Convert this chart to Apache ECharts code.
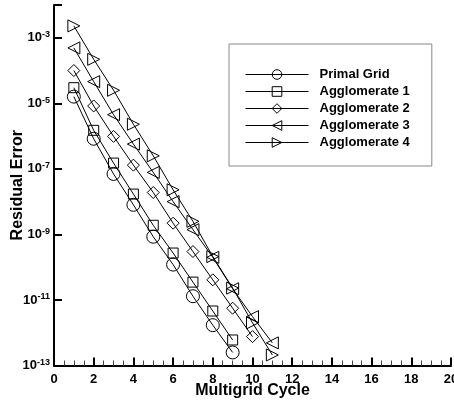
<!DOCTYPE html>
<html>
<head>
<meta charset="utf-8">
<script src="https://cdn.jsdelivr.net/npm/echarts@6/dist/echarts.min.js"></script>
<style>
html,body{margin:0;padding:0;background:#fff;}
#chart{width:454px;height:404px;}
</style>
</head>
<body>
<div id="chart"></div>
<script>
// Multigrid cycles per series
var cyclesPrimal = [1, 2, 3, 4, 5, 6, 7, 8, 9];
var cyclesAgg1 = [1, 2, 3, 4, 5, 6, 7, 8, 9];
var cyclesAgg2 = [1, 2, 3, 4, 5, 6, 7, 8, 9, 10];
var cyclesAgg3 = [1, 2, 3, 4, 5, 6, 7, 8, 9, 10, 11];
var cyclesAgg4 = [1, 2, 3, 4, 5, 6, 7, 8, 9, 10, 11];

// Residual error values
var primalGrid = [1.6e-5, 8.3e-7, 7e-8, 8e-9, 8.5e-10, 1.2e-10, 1.3e-11, 1.7e-12, 2.5e-13];
var agglomerate1 = [3e-5, 1.5e-6, 1.5e-7, 1.7e-8, 1.9e-9, 2.7e-10, 3.5e-11, 4.6e-12, 6e-13];
var agglomerate2 = [1e-4, 8.3e-6, 9.8e-7, 1.3e-7, 1.9e-8, 2.2e-9, 3e-10, 4.1e-11, 5.6e-12, 7.6e-13];
var agglomerate3 = [4.9e-4, 4.6e-5, 4.5e-6, 5.7e-7, 7.8e-8, 1e-8, 1.4e-9, 2e-10, 2.2e-11, 3.1e-12, 4.9e-13];
var agglomerate4 = [2.3e-3, 2.2e-4, 2.5e-5, 2.3e-6, 2.5e-7, 2.3e-8, 2.5e-9, 2.1e-10, 2.3e-11, 2e-12, 2.1e-13];

var seriesNames = ['Primal Grid', 'Agglomerate 1', 'Agglomerate 2', 'Agglomerate 3', 'Agglomerate 4'];

// Axis settings
var xMin = 0, xMax = 20, xInterval = 2;
var yMin = 1e-13, yMax = 1e-2;

function pairs(xs, ys) {
  return xs.map(function (x, i) { return [x, ys[i]]; });
}

var FONT = '"Liberation Sans", Arial, Helvetica, sans-serif';

var markerDefs = [
  { symbol: 'circle', size: 13, rotate: 0 },
  { symbol: 'rect', size: 10, rotate: 0 },
  { symbol: 'diamond', size: 12, rotate: 0 },
  { symbol: 'triangle', size: 12, rotate: 90 },
  { symbol: 'triangle', size: 12, rotate: -90 }
];

var dataSets = [
  pairs(cyclesPrimal, primalGrid),
  pairs(cyclesAgg1, agglomerate1),
  pairs(cyclesAgg2, agglomerate2),
  pairs(cyclesAgg3, agglomerate3),
  pairs(cyclesAgg4, agglomerate4)
];

var series = dataSets.map(function (d, i) {
  var m = markerDefs[i];
  return {
    name: seriesNames[i],
    type: 'line',
    data: d,
    symbol: m.symbol,
    symbolSize: m.size,
    symbolRotate: m.rotate,
    showAllSymbol: true,
    lineStyle: { color: '#000', width: 1 },
    itemStyle: { color: 'rgba(255,255,255,0)', borderColor: '#000', borderWidth: 1 },
    emphasis: { disabled: true },
    clip: false
  };
});

var chart = echarts.init(document.getElementById('chart'), null, { renderer: 'canvas' });
chart.setOption({
  animation: false,
  backgroundColor: '#fff',
  color: ['#000'],
  grid: { left: 54, right: 3, top: 5, bottom: 38.5, containLabel: false, outerBoundsMode: 'none' },
  legend: {
    orient: 'vertical',
    left: 229,
    top: 44,
    data: seriesNames,
    itemWidth: 63,
    itemHeight: 12,
    itemGap: 4,
    padding: [24, 22, 17, 16],
    backgroundColor: '#fff',
    borderColor: '#888',
    borderWidth: 1,
    borderRadius: 0,
    selectedMode: false,
    itemStyle: { color: 'rgba(255,255,255,0)', borderColor: '#000', borderWidth: 1 },
    lineStyle: { color: '#000', width: 1 },
    textStyle: { fontFamily: FONT, fontWeight: 'bold', fontSize: 13, lineHeight: 13, color: '#000', padding: [0, 0, 0, 6] }
  },
  xAxis: {
    type: 'value',
    min: xMin,
    max: xMax,
    interval: xInterval,
    name: 'Multigrid Cycle',
    nameLocation: 'middle',
    nameGap: 17.5,
    nameMoveOverlap: false,
    nameTextStyle: { fontFamily: FONT, fontWeight: 'bold', fontSize: 16, color: '#000' },
    axisLine: { show: true, lineStyle: { color: '#000', width: 2 } },
    axisTick: { show: true, inside: true, length: 8, lineStyle: { color: '#000', width: 2 } },
    minorTick: { show: true, splitNumber: 4, length: 5, lineStyle: { color: '#444', width: 1 } },
    splitLine: { show: false },
    axisLabel: { fontFamily: FONT, fontWeight: 'bold', fontSize: 13, color: '#000', margin: 7 }
  },
  yAxis: {
    type: 'log',
    logBase: 10,
    min: yMin,
    max: yMax,
    interval: 2,
    name: 'Residual Error',
    nameLocation: 'middle',
    nameGap: 28,
    nameMoveOverlap: false,
    nameTextStyle: { fontFamily: FONT, fontWeight: 'bold', fontSize: 16, color: '#000' },
    axisLine: { show: true, lineStyle: { color: '#000', width: 2 } },
    axisTick: { show: true, inside: true, length: 8, lineStyle: { color: '#000', width: 2 } },
    minorTick: { show: false },
    splitLine: { show: false },
    axisLabel: {
      margin: 4,
      fontFamily: FONT,
      fontWeight: 'bold',
      fontSize: 13,
      color: '#000',
      formatter: function (v) {
        var e = Math.round(Math.log10(v));
        if (e % 2 === 0) return '';
        return '{b|10}{s|' + e + '}';
      },
      rich: {
        b: { fontFamily: FONT, fontWeight: 'bold', fontSize: 13, lineHeight: 15, color: '#000' },
        s: { fontFamily: FONT, fontWeight: 'bold', fontSize: 9, lineHeight: 9, color: '#000', verticalAlign: 'top' }
      }
    }
  },
  series: series
});
</script>
</body>
</html>
